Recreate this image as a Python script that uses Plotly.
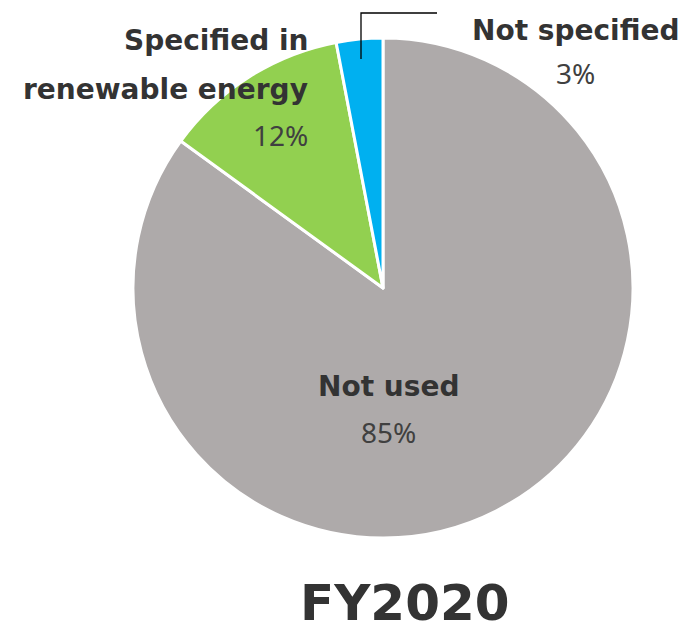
import plotly.graph_objects as go

labels = ["Not used", "Specified in renewable energy", "Not specified"]
values = [85, 12, 3]
colors = ["#AEAAAA", "#92D050", "#00B0F0"]
title_text = "FY2020"

W, H = 681, 627

def px(x):
    return x / W

def py(y):
    return 1 - y / H

fig = go.Figure(go.Pie(
    labels=labels, values=values, sort=False, direction="clockwise", rotation=0,
    marker=dict(colors=colors, line=dict(color="white", width=3)),
    textinfo="none", hoverinfo="label+percent", showlegend=False,
    domain=dict(x=[px(133), px(633)], y=[py(538), py(38)]),
))

bold = dict(family="DejaVu Sans", size=28, color="#333333")
light = dict(family="Noto Sans", size=28, color="#404040")

ann = []
def add(text, x, y, font, xanchor="center", weight=None):
    f = dict(font)
    if weight:
        f["weight"] = weight
    ann.append(dict(text=text, x=px(x), y=py(y), xref="paper", yref="paper",
                    xanchor=xanchor, yanchor="middle", showarrow=False, font=f))

add("Specified in", 310, 41, bold, "right", "bold")
add("renewable energy", 310, 90, bold, "right", "bold")
add(f"{values[1]}%", 310, 135, light, "right")
add("Not specified", 575, 30, bold, "center", "bold")
add(f"{values[2]}%", 575, 73, light, "center")
add("Not used", 388, 386, bold, "center", "bold")
add(f"{values[0]}%", 388, 432, light, "center")
ann.append(dict(text=title_text, x=px(405), y=py(603), xref="paper", yref="paper",
                xanchor="center", yanchor="middle", showarrow=False,
                font=dict(family="DejaVu Sans", size=50, color="#333333", weight="bold")))

fig.update_layout(
    width=W, height=H, margin=dict(l=0, r=0, t=0, b=0),
    paper_bgcolor="white", plot_bgcolor="white",
    annotations=ann,
    shapes=[dict(type="path", xref="paper", yref="paper",
                 path=f"M {px(361)},{py(59)} L {px(361)},{py(13)} L {px(437)},{py(13)}",
                 line=dict(color="black", width=1.3))],
)

fig.write_html("out.html")
